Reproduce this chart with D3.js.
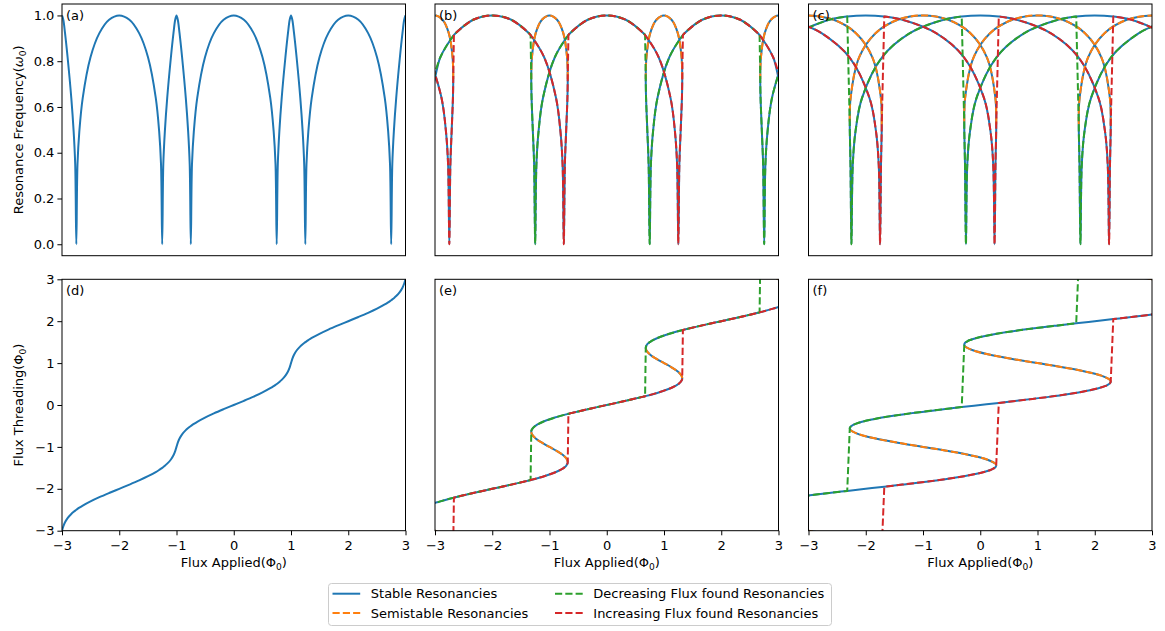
<!DOCTYPE html>
<html>
<head>
<meta charset="utf-8">
<script src="https://cdn.jsdelivr.net/npm/d3@7"></script>
<style>
  body { margin: 0; background: #fff; }
  text { font-family: "DejaVu Sans", sans-serif; }
</style>
</head>
<body>
<div id="chart"></div>
<script>
// ---- data ----
// panels (a)/(d): weak screening, single valued
const threadingA = [-3, -2.9, -2.8, -2.7, -2.6, -2.55, -2.52, -2.5, -2.48, -2.45, -2.4, -2.3, -2.2, -2.1,
  -2, -1.9, -1.8, -1.7, -1.6, -1.55, -1.52, -1.5, -1.48, -1.45, -1.4, -1.3, -1.2, -1.1,
  -1, -0.9, -0.8, -0.7, -0.6, -0.55, -0.52, -0.5, -0.48, -0.45, -0.4, -0.3, -0.2, -0.1,
  0, 0.1, 0.2, 0.3, 0.4, 0.45, 0.48, 0.5, 0.52, 0.55, 0.6, 0.7, 0.8, 0.9,
  1, 1.1, 1.2, 1.3, 1.4, 1.45, 1.48, 1.5, 1.52, 1.55, 1.6, 1.7, 1.8, 1.9,
  2, 2.1, 2.2, 2.3, 2.4, 2.45, 2.48, 2.5, 2.52, 2.55, 2.6, 2.7, 2.8, 2.9, 3];
const appliedA = [-3, -2.9773, -2.947, -2.9023, -2.8378, -2.7969, -2.7695, -2.75, -2.7295, -2.6969, -2.6378, -2.5023, -2.347, -2.1773,
  -2, -1.8227, -1.653, -1.4977, -1.3622, -1.3031, -1.2705, -1.25, -1.2305, -1.2031, -1.1622, -1.0977, -1.053, -1.0227,
  -1, -0.9773, -0.947, -0.9023, -0.8378, -0.7969, -0.7695, -0.75, -0.7295, -0.6969, -0.6378, -0.5023, -0.347, -0.1773,
  0, 0.1773, 0.347, 0.5023, 0.6378, 0.6969, 0.7295, 0.75, 0.7695, 0.7969, 0.8378, 0.9023, 0.947, 0.9773,
  1, 1.0227, 1.053, 1.0977, 1.1622, 1.2031, 1.2305, 1.25, 1.2705, 1.3031, 1.3622, 1.4977, 1.653, 1.8227,
  2, 2.1773, 2.347, 2.5023, 2.6378, 2.6969, 2.7295, 2.75, 2.7695, 2.7969, 2.8378, 2.9023, 2.947, 2.9773, 3];
const resonanceA = [1, 0.9811, 0.9226, 0.8172, 0.64, 0.4942, 0.3493, 0, 0.3493, 0.4942, 0.64, 0.8172, 0.9226, 0.9811,
  1, 0.9811, 0.9226, 0.8172, 0.64, 0.4942, 0.3493, 0, 0.3493, 0.4942, 0.64, 0.8172, 0.9226, 0.9811,
  1, 0.9811, 0.9226, 0.8172, 0.64, 0.4942, 0.3493, 0, 0.3493, 0.4942, 0.64, 0.8172, 0.9226, 0.9811,
  1, 0.9811, 0.9226, 0.8172, 0.64, 0.4942, 0.3493, 0, 0.3493, 0.4942, 0.64, 0.8172, 0.9226, 0.9811,
  1, 0.9811, 0.9226, 0.8172, 0.64, 0.4942, 0.3493, 0, 0.3493, 0.4942, 0.64, 0.8172, 0.9226, 0.9811,
  1, 0.9811, 0.9226, 0.8172, 0.64, 0.4942, 0.3493, 0, 0.3493, 0.4942, 0.64, 0.8172, 0.9226, 0.9811, 1];

// panels (b)/(e): moderate screening, small hysteresis
const threadingB = [-3.7, -3.6, -3.55, -3.52, -3.5, -3.48, -3.45, -3.4, -3.3605, -3.3, -3.2, -3.1, -3, -2.9, -2.8, -2.6395, -2.4, -2.3, -2.21, -2.2, -2.1,
  -2, -1.9, -1.8, -1.79, -1.7, -1.6, -1.55, -1.52, -1.5, -1.48, -1.45, -1.4, -1.3605, -1.3, -1.2, -1.1,
  -1, -0.9, -0.8, -0.7, -0.6395, -0.6, -0.55, -0.52, -0.5, -0.48, -0.45, -0.4, -0.3, -0.21, -0.2, -0.1,
  0, 0.1, 0.2, 0.21, 0.3, 0.4, 0.45, 0.48, 0.5, 0.52, 0.55, 0.6, 0.6395, 0.7, 0.8, 0.9,
  1, 1.1, 1.2, 1.3, 1.3605, 1.4, 1.45, 1.48, 1.5, 1.52, 1.55, 1.6, 1.7, 1.79, 1.8, 1.9,
  2, 2.1, 2.2, 2.21, 2.3, 2.4, 2.6395, 2.8, 2.9, 3, 3.1, 3.2, 3.3, 3.3605, 3.4, 3.45, 3.48, 3.5, 3.52, 3.55, 3.6, 3.7];
const appliedB = [-3.0932, -2.8867, -2.8092, -2.7715, -2.75, -2.7315, -2.7092, -2.6867, -2.6814, -2.6932, -2.7591, -2.8682, -3, -3.1318, -3.2409, -3.3186, -3.1133, -2.9068, -2.6697, -2.6409, -2.3318,
  -2, -1.6682, -1.3591, -1.3303, -1.0932, -0.8867, -0.8092, -0.7715, -0.75, -0.7315, -0.7092, -0.6867, -0.6814, -0.6932, -0.7591, -0.8682,
  -1, -1.1318, -1.2409, -1.3068, -1.3186, -1.3133, -1.2908, -1.2685, -1.25, -1.2285, -1.1908, -1.1133, -0.9068, -0.6697, -0.6409, -0.3318,
  0, 0.3318, 0.6409, 0.6697, 0.9068, 1.1133, 1.1908, 1.2285, 1.25, 1.2685, 1.2908, 1.3133, 1.3186, 1.3068, 1.2409, 1.1318,
  1, 0.8682, 0.7591, 0.6932, 0.6814, 0.6867, 0.7092, 0.7315, 0.75, 0.7715, 0.8092, 0.8867, 1.0932, 1.3303, 1.3591, 1.6682,
  2, 2.3318, 2.6409, 2.6697, 2.9068, 3.1133, 3.3186, 3.2409, 3.1318, 3, 2.8682, 2.7591, 2.6932, 2.6814, 2.6867, 2.7092, 2.7315, 2.75, 2.7715, 2.8092, 2.8867, 3.0932];
const resonanceB = [0.8172, 0.64, 0.4942, 0.3493, 0, 0.3493, 0.4942, 0.64, 0.722, 0.8172, 0.9226, 0.9811, 1, 0.9811, 0.9226, 0.722, 0.64, 0.8172, 0.9144, 0.9226, 0.9811,
  1, 0.9811, 0.9226, 0.9144, 0.8172, 0.64, 0.4942, 0.3493, 0, 0.3493, 0.4942, 0.64, 0.722, 0.8172, 0.9226, 0.9811,
  1, 0.9811, 0.9226, 0.8172, 0.722, 0.64, 0.4942, 0.3493, 0, 0.3493, 0.4942, 0.64, 0.8172, 0.9144, 0.9226, 0.9811,
  1, 0.9811, 0.9226, 0.9144, 0.8172, 0.64, 0.4942, 0.3493, 0, 0.3493, 0.4942, 0.64, 0.722, 0.8172, 0.9226, 0.9811,
  1, 0.9811, 0.9226, 0.8172, 0.722, 0.64, 0.4942, 0.3493, 0, 0.3493, 0.4942, 0.64, 0.8172, 0.9144, 0.9226, 0.9811,
  1, 0.9811, 0.9226, 0.9144, 0.8172, 0.64, 0.722, 0.9226, 0.9811, 1, 0.9811, 0.9226, 0.8172, 0.722, 0.64, 0.4942, 0.3493, 0, 0.3493, 0.4942, 0.64, 0.8172];

// panels (c)/(f): strong screening, wide hysteresis
const threadingC = [-3.85, -3.8, -3.7, -3.6, -3.55, -3.52, -3.5, -3.48, -3.45, -3.4418, -3.4, -3.3, -3.2, -3.1, -3, -2.95,
  -2.2, -2.1, -2.05, -2, -1.95, -1.9, -1.8, -1.7, -1.6, -1.55, -1.52, -1.5, -1.48, -1.45, -1.4418, -1.4, -1.3, -1.2, -1.1,
  -1, -0.9, -0.8, -0.7, -0.6, -0.5582, -0.55, -0.52, -0.5, -0.48, -0.45, -0.4, -0.3, -0.2, -0.1, -0.05,
  0, 0.05, 0.1, 0.2, 0.3, 0.4, 0.45, 0.48, 0.5, 0.52, 0.55, 0.5582, 0.6, 0.7, 0.8, 0.9,
  1, 1.1, 1.2, 1.3, 1.4, 1.4418, 1.45, 1.48, 1.5, 1.52, 1.55, 1.6, 1.7, 1.8, 1.9, 1.95,
  2, 2.05, 2.1, 2.2, 2.95, 3, 3.1, 3.2, 3.3, 3.4, 3.4418, 3.45, 3.48, 3.5, 3.52, 3.55, 3.6, 3.7, 3.8, 3.85];
const appliedC = [-3.0555, -2.7713, -2.2842, -1.9356, -1.8215, -1.7735, -1.75, -1.7335, -1.7215, -1.721, -1.7356, -1.8842, -2.1713, -2.5592, -3, -3.2237,
  -3.2287, -2.6408, -2.3237, -2, -1.6763, -1.3592, -0.7713, -0.2842, 0.0644, 0.1785, 0.2265, 0.25, 0.2665, 0.2785, 0.279, 0.2644, 0.1158, -0.1713, -0.5592,
  -1, -1.4408, -1.8287, -2.1158, -2.2644, -2.279, -2.2785, -2.2665, -2.25, -2.2265, -2.1785, -2.0644, -1.7158, -1.2287, -0.6408, -0.3237,
  0, 0.3237, 0.6408, 1.2287, 1.7158, 2.0644, 2.1785, 2.2265, 2.25, 2.2665, 2.2785, 2.279, 2.2644, 2.1158, 1.8287, 1.4408,
  1, 0.5592, 0.1713, -0.1158, -0.2644, -0.279, -0.2785, -0.2665, -0.25, -0.2265, -0.1785, -0.0644, 0.2842, 0.7713, 1.3592, 1.6763,
  2, 2.3237, 2.6408, 3.2287, 3.2237, 3, 2.5592, 2.1713, 1.8842, 1.7356, 1.721, 1.7215, 1.7335, 1.75, 1.7735, 1.8215, 1.9356, 2.2842, 2.7713, 3.0555];
const resonanceC = [0.9571, 0.9226, 0.8172, 0.64, 0.4942, 0.3493, 0, 0.3493, 0.4942, 0.5233, 0.64, 0.8172, 0.9226, 0.9811, 1, 0.9953,
  0.9226, 0.9811, 0.9953, 1, 0.9953, 0.9811, 0.9226, 0.8172, 0.64, 0.4942, 0.3493, 0, 0.3493, 0.4942, 0.5233, 0.64, 0.8172, 0.9226, 0.9811,
  1, 0.9811, 0.9226, 0.8172, 0.64, 0.5233, 0.4942, 0.3493, 0, 0.3493, 0.4942, 0.64, 0.8172, 0.9226, 0.9811, 0.9953,
  1, 0.9953, 0.9811, 0.9226, 0.8172, 0.64, 0.4942, 0.3493, 0, 0.3493, 0.4942, 0.5233, 0.64, 0.8172, 0.9226, 0.9811,
  1, 0.9811, 0.9226, 0.8172, 0.64, 0.5233, 0.4942, 0.3493, 0, 0.3493, 0.4942, 0.64, 0.8172, 0.9226, 0.9811, 0.9953,
  1, 0.9953, 0.9811, 0.9226, 0.9953, 1, 0.9811, 0.9226, 0.8172, 0.64, 0.5233, 0.4942, 0.3493, 0, 0.3493, 0.4942, 0.64, 0.8172, 0.9226, 0.9571];

// branches, given as ranges of threading flux (start -> end)
const stableA = [[-3, 3]];
const stableB = [[-3.7, 3.7]];
const semistableB = [[-3.3605, -2.6395], [-1.3605, -0.6395], [0.6395, 1.3605], [2.6395, 3.3605]];
const decreasingB = [[3.7, 3.3605], [2.21, 1.3605], [0.21, -0.6395], [-1.79, -2.4]];
const increasingB = [[-3.7, -3.3605], [-2.21, -1.3605], [-0.21, 0.6395], [1.79, 2.4]];
const stableC = [[-3.85, -2.95], [-2.2, 2.2], [2.95, 3.85]];
const semistableC = [[-3.4418, -2.95], [-1.4418, -0.5582], [0.5582, 1.4418], [2.95, 3.4418]];
const decreasingC = [[3.85, 3.4418], [1.95, 1.4418], [-0.05, -0.5582], [-2.05, -2.2]];
const increasingC = [[-3.85, -3.4418], [-1.95, -1.4418], [0.05, 0.5582], [2.05, 2.2]];

const legendLabels = ["Stable Resonancies", "Semistable Resonancies",
  "Decreasing Flux found Resonancies", "Increasing Flux found Resonancies"];
const xTicks = [-3, -2, -1, 0, 1, 2, 3];
const resTicks = [0, 0.2, 0.4, 0.6, 0.8, 1.0];
const threadTicks = [-3, -2, -1, 0, 1, 2, 3];

// ---- layout ----
const colors = { stable: "#1f77b4", semistable: "#ff7f0e", decreasing: "#2ca02c", increasing: "#d62728" };
const dash = "7.2,3.1";
const colLeft = [62, 435, 808.5], panelW = 343.5;
const rowTop = [4, 279.3], rowBottom = [255.7, 530.7];

const svg = d3.select("#chart").append("svg")
  .attr("width", 1165)
  .attr("height", 631);

const groupA = { phi: threadingA, ext: appliedA, w: resonanceA,
  series: [{ key: "stable", pieces: stableA }] };
const groupB = { phi: threadingB, ext: appliedB, w: resonanceB,
  series: [{ key: "stable", pieces: stableB }, { key: "semistable", pieces: semistableB },
           { key: "decreasing", pieces: decreasingB, joined: true }, { key: "increasing", pieces: increasingB, joined: true }] };
const groupC = { phi: threadingC, ext: appliedC, w: resonanceC,
  series: [{ key: "stable", pieces: stableC }, { key: "semistable", pieces: semistableC },
           { key: "decreasing", pieces: decreasingC, joined: true }, { key: "increasing", pieces: increasingC, joined: true }] };

const panels = [
  { label: "(a)", col: 0, row: 0, group: groupA },
  { label: "(b)", col: 1, row: 0, group: groupB },
  { label: "(c)", col: 2, row: 0, group: groupC },
  { label: "(d)", col: 0, row: 1, group: groupA },
  { label: "(e)", col: 1, row: 1, group: groupB },
  { label: "(f)", col: 2, row: 1, group: groupC }
];

// indices of table rows whose threading flux lies in [a, b], ordered a -> b
function pick(g, a, b) {
  const lo = Math.min(a, b) - 1e-9, hi = Math.max(a, b) + 1e-9;
  const idx = d3.range(g.phi.length).filter(i => g.phi[i] >= lo && g.phi[i] <= hi);
  if (a > b) idx.reverse();
  return idx;
}

function styleAxis(sel) {
  sel.attr("font-size", 13).attr("font-family", "DejaVu Sans, sans-serif");
  sel.select(".domain").remove();
  sel.selectAll(".tick line").attr("stroke", "#000").attr("stroke-width", 1);
  sel.selectAll(".tick text").attr("fill", "#000");
}

panels.forEach((p, pi) => {
  const left = colLeft[p.col], top = rowTop[p.row], bottom = rowBottom[p.row];
  const x = d3.scaleLinear().domain([-3, 3]).range([left, left + panelW]);
  const y = p.row === 0
    ? d3.scaleLinear().domain([-0.05, 1.05]).range([bottom, top])
    : d3.scaleLinear().domain([-3, 3]).range([bottom, top]);
  const values = p.row === 0 ? p.group.w : p.group.phi;

  const clipId = "clip" + pi;
  svg.append("clipPath").attr("id", clipId)
    .append("rect").attr("x", left).attr("y", top).attr("width", panelW).attr("height", bottom - top);

  const plot = svg.append("g").attr("clip-path", "url(#" + clipId + ")");
  const line = d3.line()
    .x(d => x(d[0]))
    .y(d => y(d[1]))
    .curve(d3.curveCatmullRom.alpha(0.5));

  p.group.series.forEach(s => {
    const paths = s.pieces.map(([a, b]) => line(pick(p.group, a, b).map(i => [p.group.ext[i], values[i]])));
    const ds = s.joined ? [paths.map((d, i) => i ? "L" + d.slice(1) : d).join("")] : paths;
    ds.forEach(d => {
      plot.append("path")
        .attr("d", d)
        .attr("fill", "none")
        .attr("stroke", colors[s.key])
        .attr("stroke-width", 2)
        .attr("stroke-linejoin", "round")
        .attr("stroke-dasharray", s.key === "stable" ? null : dash);
    });
  });

  // spines
  svg.append("rect")
    .attr("x", left).attr("y", top)
    .attr("width", panelW).attr("height", bottom - top)
    .attr("fill", "none").attr("stroke", "#000").attr("stroke-width", 1);

  svg.append("text")
    .attr("x", left + 4).attr("y", top + 16)
    .attr("font-size", 13)
    .text(p.label);

  if (p.row === 1) {
    svg.append("g")
      .attr("transform", "translate(0," + bottom + ")")
      .call(d3.axisBottom(x).tickValues(xTicks).tickSize(4.6).tickPadding(5).tickFormat(d3.format("d")))
      .call(styleAxis);

    const xl = svg.append("text")
      .attr("x", left + panelW / 2).attr("y", 566.5)
      .attr("text-anchor", "middle").attr("font-size", 13);
    xl.append("tspan").text("Flux Applied(Φ");
    xl.append("tspan").text("0").attr("font-size", 9.1).attr("dy", 3);
    xl.append("tspan").text(")").attr("dy", -3);
  }

  if (p.col === 0) {
    const axis = p.row === 0
      ? d3.axisLeft(y).tickValues(resTicks).tickFormat(d3.format(".1f"))
      : d3.axisLeft(y).tickValues(threadTicks).tickFormat(d3.format("d"));
    svg.append("g")
      .attr("transform", "translate(" + left + ",0)")
      .call(axis.tickSize(4.6).tickPadding(3))
      .call(styleAxis);

    const yl = svg.append("text")
      .attr("transform", "translate(22.5," + ((top + bottom) / 2) + ") rotate(-90)")
      .attr("text-anchor", "middle").attr("font-size", 13);
    if (p.row === 0) {
      yl.append("tspan").text("Resonance Frequency(");
      yl.append("tspan").text("ω").attr("font-style", "italic");
    } else {
      yl.append("tspan").text("Flux Threading(Φ");
    }
    yl.append("tspan").text("0").attr("font-size", 9.1).attr("dy", 3);
    yl.append("tspan").text(")").attr("dy", -3);
  }
});

// ---- legend ----
const legend = svg.append("g");
legend.append("rect")
  .attr("x", 328.5).attr("y", 583.5)
  .attr("width", 503).attr("height", 42)
  .attr("rx", 3)
  .attr("fill", "#fff").attr("stroke", "#cccccc").attr("stroke-width", 1);

const legendKeys = ["stable", "semistable", "decreasing", "increasing"];
legendKeys.forEach((k, i) => {
  const colX = i < 2 ? 332.5 : 555;
  const rowY = i % 2 === 0 ? 593.7 : 613;
  legend.append("line")
    .attr("x1", colX).attr("x2", colX + 27.7)
    .attr("y1", rowY).attr("y2", rowY)
    .attr("stroke", colors[k]).attr("stroke-width", 2)
    .attr("stroke-dasharray", k === "stable" ? null : dash);
  legend.append("text")
    .attr("x", colX + 38.3).attr("y", rowY + 4.7)
    .attr("font-size", 13)
    .text(legendLabels[i]);
});
</script>
</body>
</html>
